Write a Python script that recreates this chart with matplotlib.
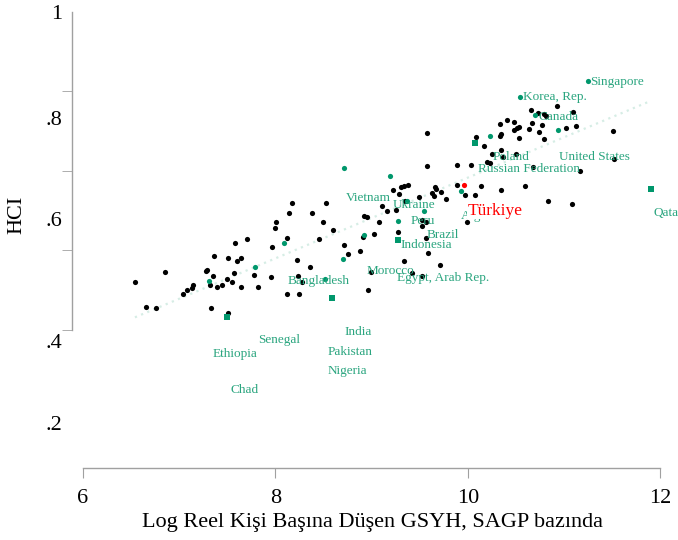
import numpy as np
import matplotlib
matplotlib.use('Agg')
import matplotlib.pyplot as plt

plt.rcParams['font.family'] = ['Liberation Serif', 'DejaVu Serif']

# Data: log real GDP per capita (PPP) and HCI, read off the picture
# countries without a label (black dots)
gdp_other = [6.54, 6.85, 6.66, 6.76, 7.04, 7.08, 7.13, 7.14, 7.28, 7.29,
             7.32, 7.35, 7.36, 7.33, 7.51, 7.39, 7.45, 7.50, 7.55, 7.51,
             7.58, 7.60, 7.64, 7.57, 7.64, 7.70, 7.78, 7.82, 7.95, 7.97,
             8.00, 8.01, 8.12, 8.14, 8.17, 8.22, 8.24, 8.28, 8.12, 8.25,
             8.36, 8.38, 8.45, 8.49, 8.53, 8.60, 8.71, 8.75, 8.88, 8.92,
             8.95, 9.08, 9.02, 8.91, 8.96, 8.99, 9.11, 9.16, 9.25, 9.22,
             9.28, 9.31, 9.34, 9.38, 9.35, 9.49, 9.27, 9.34, 9.42, 9.52,
             9.52, 9.57, 9.52, 9.57, 9.59, 9.71, 9.58, 9.58, 9.66, 9.67,
             9.72, 9.63, 9.65, 9.77, 9.89, 10.03, 9.89, 9.97, 10.07, 10.14,
             9.99, 10.35, 10.59, 10.83, 11.08, 10.09, 10.17, 10.25, 10.37, 10.50,
             10.20, 10.23, 10.35, 10.68, 10.33, 10.41, 10.33, 10.35, 10.48, 10.53,
             10.48, 10.51, 10.53, 10.64, 10.67, 10.77, 10.74, 10.79, 10.66, 10.73,
             10.81, 10.79, 10.93, 11.09, 11.02, 11.12, 11.51, 11.52, 11.17]
hci_other = [0.490, 0.509, 0.443, 0.441, 0.467, 0.475, 0.480, 0.484, 0.511, 0.514,
             0.484, 0.502, 0.539, 0.442, 0.432, 0.481, 0.484, 0.496, 0.490, 0.535,
             0.564, 0.530, 0.536, 0.508, 0.481, 0.572, 0.504, 0.482, 0.500, 0.557,
             0.592, 0.604, 0.574, 0.620, 0.640, 0.533, 0.501, 0.491, 0.468, 0.468,
             0.519, 0.620, 0.572, 0.603, 0.640, 0.589, 0.560, 0.544, 0.549, 0.616,
             0.613, 0.604, 0.581, 0.575, 0.475, 0.510, 0.634, 0.625, 0.626, 0.665,
             0.657, 0.669, 0.671, 0.674, 0.643, 0.650, 0.585, 0.530, 0.508, 0.502,
             0.608, 0.604, 0.597, 0.574, 0.545, 0.522, 0.771, 0.709, 0.669, 0.666,
             0.661, 0.658, 0.653, 0.648, 0.712, 0.711, 0.674, 0.655, 0.655, 0.671,
             0.604, 0.665, 0.671, 0.643, 0.637, 0.765, 0.748, 0.733, 0.726, 0.732,
             0.717, 0.715, 0.740, 0.707, 0.788, 0.796, 0.766, 0.770, 0.792, 0.783,
             0.777, 0.782, 0.762, 0.779, 0.791, 0.786, 0.773, 0.761, 0.816, 0.809,
             0.804, 0.807, 0.823, 0.811, 0.781, 0.784, 0.775, 0.723, 0.700]

# highlighted comparison countries (green circles)
gdp_peer = [7.31, 7.79, 8.09, 8.52, 8.70, 8.71, 8.92, 9.19, 9.27, 9.37,
            9.54, 9.93, 10.23, 10.54, 10.70, 10.94, 11.25]
hci_peer = [0.493, 0.518, 0.564, 0.497, 0.534, 0.705, 0.579, 0.691, 0.606, 0.644,
            0.625, 0.663, 0.766, 0.840, 0.806, 0.777, 0.869]

# highlighted comparison countries (green squares)
gdp_peer_sq = [7.50, 8.59, 11.90, 9.27, 10.08]
hci_peer_sq = [0.425, 0.460, 0.666, 0.569, 0.752]

# Türkiye
gdp_tr = [9.96]
hci_tr = [0.674]

# country labels
label_names = ['Singapore', 'Korea, Rep.', 'Canada', 'Poland', 'United States',
               'Russian Federation', 'Vietnam', 'Ukraine', 'Peru', 'Brazil',
               'Indonesia', 'Morocco', 'Egypt, Arab Rep.', 'Argentina', 'Qatar',
               'Bangladesh', 'India', 'Pakistan', 'Nigeria', 'Senegal',
               'Ethiopia', 'Chad']
label_pos = [(11.27, 0.868), (10.57, 0.840), (10.73, 0.802), (10.26, 0.726),
             (10.95, 0.726), (10.11, 0.704), (8.73, 0.649), (9.22, 0.635),
             (9.41, 0.606), (9.57, 0.580), (9.30, 0.560), (8.95, 0.511),
             (9.26, 0.498), (9.93, 0.615), (11.93, 0.621), (8.13, 0.493),
             (8.72, 0.397), (8.54, 0.359), (8.54, 0.323), (7.82, 0.382),
             (7.35, 0.355), (7.53, 0.287)]

green_dot = '#00976c'
green_txt = '#2aa57f'
gray = '#a0a0a0'

fig = plt.figure(figsize=(6.78, 5.4), dpi=100)
ax = fig.add_axes([72/678, 72/540, 598/678, 456/540])

# linear fit over all countries
all_x = np.array(gdp_other + gdp_peer + gdp_peer_sq + gdp_tr)
all_y = np.array(hci_other + hci_peer + hci_peer_sq + hci_tr)
b, a = np.polyfit(all_x, all_y, 1)
xf = np.linspace(all_x.min(), all_x.max(), 50)
ax.plot(xf, a + b*xf, ls=(0, (1, 2)), color='#d6ede5', lw=1.6, zorder=1)

ax.scatter(gdp_other, hci_other, s=14, color='black', zorder=3, linewidths=0)
ax.scatter(gdp_peer, hci_peer, s=14, color=green_dot, zorder=3, linewidths=0)
ax.scatter(gdp_peer_sq, hci_peer_sq, s=14, marker='s', color=green_dot, zorder=3, linewidths=0)
ax.scatter(gdp_tr, hci_tr, s=14, color='red', zorder=4, linewidths=0)

for name, (lx, ly) in zip(label_names, label_pos):
    ax.text(lx, ly, name, color=green_txt, fontsize=9.5, ha='left', va='center', zorder=5)
ax.text(10.0, 0.625, 'Türkiye', color='red', fontsize=12.5, ha='left', va='center', zorder=6,
        bbox=dict(facecolor='white', edgecolor='none', pad=0.5))

ax.set_xlim(5.886, 12.102)
ax.set_ylim(0.1396, 1.0)

for s in ['top', 'right']:
    ax.spines[s].set_visible(False)
for s in ['left', 'bottom']:
    ax.spines[s].set_color(gray)
    ax.spines[s].set_linewidth(1)
ax.spines['left'].set_bounds(0.4, 1.0)
ax.spines['bottom'].set_bounds(6, 12)

ax.set_xticks([6, 8, 10, 12])
ax.set_xticklabels(['6', '8', '10', '12'])
ax.tick_params(axis='x', length=7, color=gray, labelsize=16, pad=8)

ax.set_yticks([1.0, 0.8, 0.61, 0.38, 0.225])
ax.set_yticklabels(['1', '.8', '.6', '.4', '.2'])
ax.set_yticks([1.0, 0.85, 0.7, 0.55, 0.4], minor=True)
ax.tick_params(axis='y', which='major', length=0, labelsize=16, pad=7)
ax.tick_params(axis='y', which='minor', length=7, color=gray)

fig.text(373/678, 1 - 522/540, 'Log Reel Kişi Başına Düşen GSYH, SAGP bazında',
         fontsize=16, ha='center', va='center')
fig.text(17/678, 1 - 215/540, 'HCI', fontsize=16, rotation=90, ha='center', va='center')

fig.savefig('out.png', dpi=100)
